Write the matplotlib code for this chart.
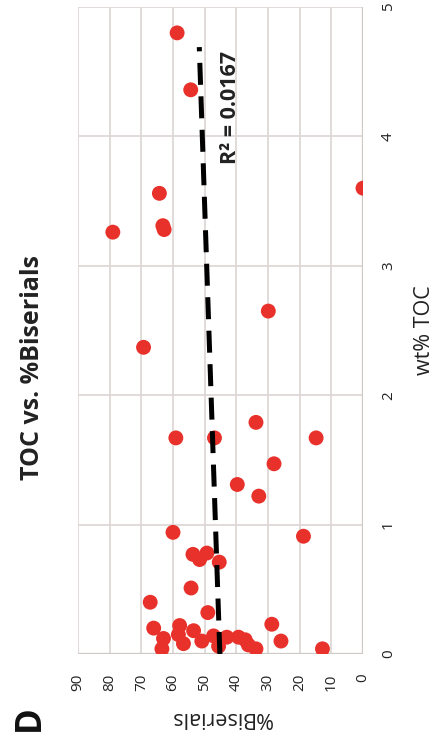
import matplotlib
matplotlib.use("Agg")
import matplotlib.pyplot as plt

# scatter data read from the (rotated) reference panel
toc = [4.80, 4.36, 3.56, 3.60, 3.26, 3.31, 3.28,
       2.65, 2.37, 1.79, 1.67, 1.67, 1.67, 1.47, 1.31, 1.22,
       0.94, 0.91, 0.77, 0.78, 0.73, 0.71, 0.51, 0.40, 0.32,
       0.20, 0.22, 0.18, 0.23, 0.12, 0.15, 0.04, 0.08, 0.10,
       0.14, 0.06, 0.13, 0.13, 0.11, 0.07, 0.04, 0.10, 0.04]
biserials = [58.7, 54.4, 64.3, 0.0, 79.0, 63.2, 62.8,
             29.9, 69.3, 33.8, 59.1, 46.9, 14.8, 28.1, 39.7, 32.9,
             60.0, 18.8, 53.7, 49.3, 51.6, 45.4, 54.3, 67.2, 49.0,
             66.1, 57.9, 53.5, 28.8, 63.0, 58.3, 63.5, 56.7, 50.9,
             47.2, 45.6, 43.0, 39.3, 37.2, 36.2, 33.8, 25.9, 12.8]

trend_toc = [0.0, 4.69]
trend_bis = [45.2, 51.7]

bis_ticks = [90, 80, 70, 60, 50, 40, 30, 20, 10, 0]
toc_ticks = [0, 1, 2, 3, 4, 5]

plt.rcParams["font.family"] = ["Open Sans", "DejaVu Sans"]

fig = plt.figure(figsize=(4.41, 7.44), dpi=100)
ax = fig.add_axes([78 / 441, 90 / 744, 285 / 441, 647 / 744])

ax.scatter(biserials, toc, s=115, color="#e8312a", edgecolors="none", zorder=3)
ax.plot(trend_bis, trend_toc, color="black", lw=3.6, ls=(0, (4.4, 2.3)), zorder=4)

ax.set_xlim(90, 0)
ax.set_ylim(0, 5)
ax.set_xticks(bis_ticks)
ax.set_yticks(toc_ticks)
ax.grid(True, color="#dcd6d2", lw=1.2)
ax.set_axisbelow(True)
for s in ax.spines.values():
    s.set_visible(False)
ax.axhline(0, color="#cfc8c4", lw=1.6, zorder=1)
ax.axvline(0, color="#cfc8c4", lw=1.6, zorder=1)

ax.yaxis.tick_right()
ax.tick_params(length=0, labelsize=11, colors="#222222")
ax.tick_params(axis="y", pad=13, labelrotation=90)
ax.tick_params(axis="x", pad=14, labelrotation=90)
for t in ax.get_yticklabels():
    t.set_va("center")

ax.text(42, 4.22, "R² = 0.0167", rotation=90, ha="center", va="center",
        fontsize=15.5, fontweight="bold", color="#222222")

fig.text(425 / 441, 1 - 330 / 744, "wt% TOC", rotation=90, ha="center", va="center",
         fontsize=15.5, color="#222222")
fig.text(221 / 441, 1 - 717 / 744, "%Biserials", rotation=180, ha="center", va="center",
         fontsize=15.5, color="#222222")
fig.text(33 / 441, 1 - 367 / 744, "TOC vs. %Biserials", rotation=90, ha="center", va="center",
         fontsize=18, fontweight="bold", color="#222222")
fig.text(30 / 441, 1 - 718 / 744, "D", rotation=90, ha="center", va="center",
         fontsize=25, fontweight="bold", color="#111111")

fig.savefig("out.png", dpi=100)
